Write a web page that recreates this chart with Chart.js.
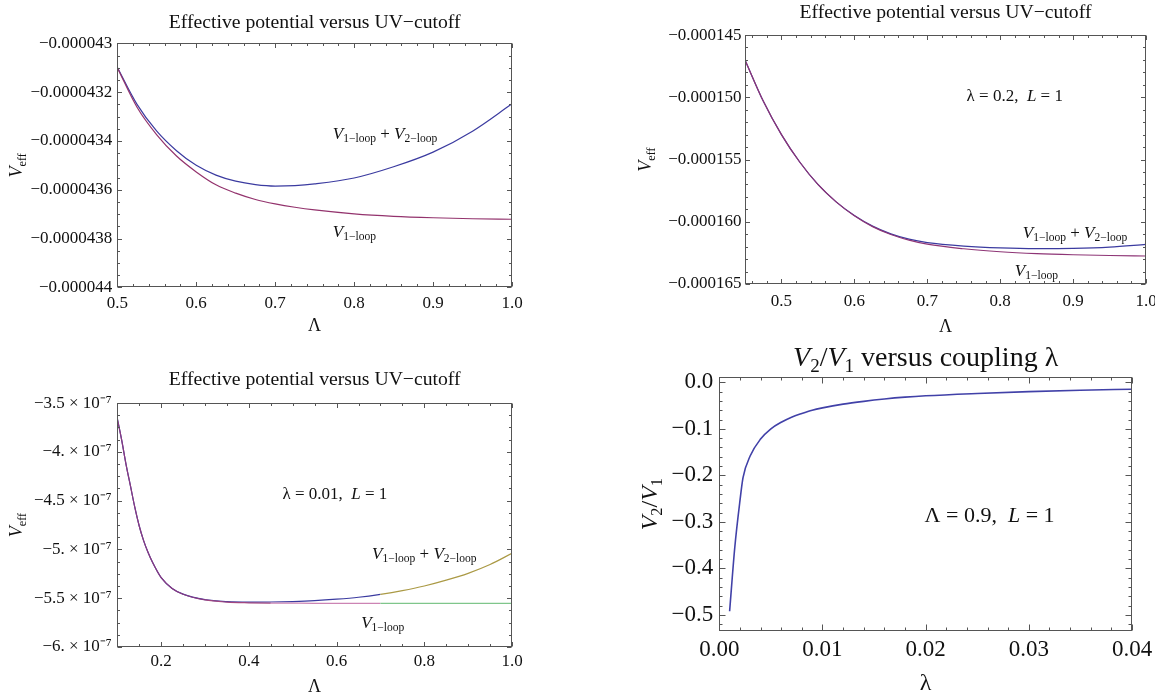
<!DOCTYPE html>
<html>
<head>
<meta charset="utf-8">
<title>Effective potential versus UV-cutoff</title>
<script src="https://cdn.jsdelivr.net/npm/chart.js@4.4.1/dist/chart.umd.min.js"></script>
<style>
  html, body { margin: 0; padding: 0; background: #fff; }
  body { width: 1155px; height: 695px; position: relative; overflow: hidden; }
  canvas { position: absolute; }
</style>
</head>
<body>
<canvas id="tl" width="542" height="340" style="left:0;top:0;width:542px;height:340px"></canvas>
<canvas id="tr" width="596" height="340" style="left:580px;top:0;width:596px;height:340px"></canvas>
<canvas id="bl" width="542" height="355" style="left:0;top:340px;width:542px;height:355px"></canvas>
<canvas id="br" width="582" height="355" style="left:580px;top:340px;width:582px;height:355px"></canvas>
<script>
// ---- data ----
// top left panel
const tlCutoff = [0.5, 0.525, 0.55, 0.575, 0.6, 0.625, 0.65, 0.675, 0.7, 0.725, 0.75, 0.8, 0.85, 0.9, 0.95, 1.0];
const tlOneLoop = [-4.3100e-5, -4.3262e-5, -4.3375e-5, -4.3462e-5, -4.3527e-5, -4.3580e-5, -4.3614e-5, -4.3640e-5,
                   -4.3658e-5, -4.3672e-5, -4.3683e-5, -4.3699e-5, -4.3709e-5, -4.3715e-5, -4.3719e-5, -4.3721e-5];
const tlTwoLoop = [-4.3098e-5, -4.3250e-5, -4.3360e-5, -4.3440e-5, -4.3500e-5, -4.3540e-5, -4.3565e-5, -4.3579e-5,
                   -4.3585e-5, -4.3583e-5, -4.3576e-5, -4.3552e-5, -4.3506e-5, -4.3446e-5, -4.3360e-5, -4.3248e-5];
const tlXTicks = [0.5, 0.6, 0.7, 0.8, 0.9, 1.0];
const tlYTicks = [-0.000044, -0.0000438, -0.0000436, -0.0000434, -0.0000432, -0.000043];

// top right panel (lambda = 0.2, L = 1)
const trCutoff = [0.45, 0.475, 0.5, 0.525, 0.55, 0.575, 0.6, 0.625, 0.65, 0.675, 0.7, 0.75, 0.8, 0.85, 0.9, 0.95, 1.0];
const trOneLoop = [-1.4700e-4, -1.5030e-4, -1.5300e-4, -1.5520e-4, -1.5700e-4, -1.5840e-4, -1.5952e-4, -1.6039e-4,
                   -1.6102e-4, -1.6147e-4, -1.6180e-4, -1.6217e-4, -1.6241e-4, -1.6256e-4, -1.6265e-4, -1.6271e-4, -1.6275e-4];
const trTwoLoop = [-1.4700e-4, -1.5030e-4, -1.5300e-4, -1.5520e-4, -1.5700e-4, -1.5840e-4, -1.5950e-4, -1.6035e-4,
                   -1.6097e-4, -1.6140e-4, -1.6167e-4, -1.6195e-4, -1.6210e-4, -1.6216e-4, -1.6214e-4, -1.6204e-4, -1.6182e-4];
const trXTicks = [0.5, 0.6, 0.7, 0.8, 0.9, 1.0];
const trYTicks = [-0.000165, -0.00016, -0.000155, -0.00015, -0.000145];

// bottom left panel (lambda = 0.01, L = 1)
const blCutoff = [0.1, 0.11, 0.12, 0.13, 0.14, 0.15, 0.16, 0.17, 0.18, 0.2, 0.225, 0.25, 0.3, 0.35, 0.4,
                  0.45, 0.5, 0.55, 0.6, 0.65, 0.7, 0.75, 0.8, 0.85, 0.9, 0.95, 1.0];
const blOneLoop = [-3.66e-7, -3.88e-7, -4.13e-7, -4.35e-7, -4.57e-7, -4.76e-7, -4.91e-7, -5.03e-7, -5.13e-7, -5.29e-7,
                   -5.40e-7, -5.46e-7, -5.518e-7, -5.540e-7, -5.547e-7, -5.550e-7, -5.551e-7, -5.552e-7, -5.552e-7,
                   -5.552e-7, -5.552e-7, -5.552e-7, -5.552e-7, -5.552e-7, -5.552e-7, -5.552e-7, -5.552e-7];
const blTwoLoop = [-3.66e-7, -3.88e-7, -4.13e-7, -4.35e-7, -4.57e-7, -4.76e-7, -4.91e-7, -5.03e-7, -5.13e-7, -5.29e-7,
                   -5.40e-7, -5.458e-7, -5.514e-7, -5.535e-7, -5.540e-7, -5.539e-7, -5.534e-7, -5.525e-7, -5.510e-7,
                   -5.490e-7, -5.460e-7, -5.422e-7, -5.375e-7, -5.315e-7, -5.245e-7, -5.155e-7, -5.040e-7];
const blXTicks = [0.2, 0.4, 0.6, 0.8, 1.0];
const blYTicks = [-6e-7, -5.5e-7, -5e-7, -4.5e-7, -4e-7, -3.5e-7];

// bottom right panel (Lambda = 0.9, L = 1)
const brCoupling = [0.001, 0.0015, 0.002, 0.0023, 0.003, 0.004, 0.005, 0.006, 0.007, 0.008, 0.009, 0.01,
                    0.012, 0.014, 0.016, 0.018, 0.02, 0.025, 0.03, 0.035, 0.04];
const brRatio = [-0.492, -0.355, -0.255, -0.205, -0.158, -0.122, -0.100, -0.086, -0.075, -0.067, -0.060, -0.055,
                 -0.047, -0.041, -0.036, -0.032, -0.029, -0.024, -0.020, -0.017, -0.015];
const brXTicks = [0, 0.01, 0.02, 0.03, 0.04];
const brYTicks = [-0.5, -0.4, -0.3, -0.2, -0.1, 0];

// ---- drawing ----
const SERIF = '"Liberation Serif", "Times New Roman", serif';
Chart.defaults.font.family = SERIF;
Chart.defaults.color = '#111';

const BLUE = '#3b3ba0';
const MAGENTA = '#93336d';
const MINUS = '\u2212';

function points(xs, ys) {
  return xs.map((x, i) => ({x: x, y: ys[i]}));
}

// text with italic and subscript pieces: [text, 'n' | 'i' | 's']
function richText(ctx, parts, x, y, size, align) {
  const font = p => (p[1] === 'i' ? 'italic ' : '') + (p[1] === 's' ? size * 0.68 : size) + 'px ' + SERIF;
  let width = 0;
  parts.forEach(p => { ctx.font = font(p); width += ctx.measureText(p[0]).width; });
  let cx = align === 'center' ? x - width / 2 : x;
  const base = y + size * 0.33;
  ctx.textAlign = 'left';
  ctx.textBaseline = 'alphabetic';
  ctx.fillStyle = '#111';
  parts.forEach(p => {
    ctx.font = font(p);
    ctx.fillText(p[0], cx, p[1] === 's' ? base + size * 0.22 : base);
    cx += ctx.measureText(p[0]).width;
  });
}

function stepValues(min, max, step) {
  const out = [];
  const first = Math.ceil(min / step - 1e-6);
  const last = Math.floor(max / step + 1e-6);
  for (let i = first; i <= last; i++) out.push(i * step);
  return out;
}

// Mathematica style frame with inward ticks, plus text notes
function paper(setup) {
  return {
    id: 'paper',
    afterDraw(chart) {
      const {ctx, chartArea: a, scales} = chart;
      const x = scales.x, y = scales.y;
      ctx.save();
      ctx.strokeStyle = '#555';
      ctx.lineWidth = 1;
      const L = Math.round(a.left) + 0.5, R = Math.round(a.right) - 0.5;
      const T = Math.round(a.top) + 0.5, B = Math.round(a.bottom) - 0.5;
      ctx.strokeRect(L, T, R - L, B - T);
      ctx.beginPath();
      stepValues(x.min, x.max, setup.xMinor).forEach(v => {
        const major = x.ticks.some(t => Math.abs(t.value - v) < setup.xMinor * 1e-3);
        const len = major ? setup.major : setup.minor;
        const px = Math.round(x.getPixelForValue(v)) + 0.5;
        ctx.moveTo(px, B); ctx.lineTo(px, B - len);
        ctx.moveTo(px, T); ctx.lineTo(px, T + len);
      });
      stepValues(y.min, y.max, setup.yMinor).forEach(v => {
        const major = y.ticks.some(t => Math.abs(t.value - v) < setup.yMinor * 1e-3);
        const len = major ? setup.major : setup.minor;
        const py = Math.round(y.getPixelForValue(v)) + 0.5;
        ctx.moveTo(L, py); ctx.lineTo(L + len, py);
        ctx.moveTo(R, py); ctx.lineTo(R - len, py);
      });
      ctx.stroke();

      setup.notes.forEach(n => {
        if (n.axis === 'y') {
          ctx.save();
          ctx.translate(n.px, (a.top + a.bottom) / 2);
          ctx.rotate(-Math.PI / 2);
          richText(ctx, n.parts, 0, 0, n.size, 'center');
          ctx.restore();
        } else if (n.axis === 'title') {
          richText(ctx, n.parts, (a.left + a.right) / 2, n.py, n.size, 'center');
        } else {
          richText(ctx, n.parts, x.getPixelForValue(n.x), y.getPixelForValue(n.y), n.size, n.align);
        }
      });
      ctx.restore();
    }
  };
}

function panel(id, cfg) {
  return new Chart(document.getElementById(id), {
    type: 'scatter',
    data: {datasets: cfg.datasets},
    options: {
      responsive: false,
      animation: false,
      events: [],
      layout: {padding: cfg.padding},
      elements: {point: {radius: 0}, line: {borderWidth: 1.2, cubicInterpolationMode: 'monotone'}},
      plugins: {
        legend: {display: false},
        tooltip: {enabled: false},
        title: cfg.title ? {
          display: true,
          text: cfg.title,
          fullSize: false,
          color: '#111',
          font: {size: 19.7, weight: 'normal'},
          padding: cfg.titlePad
        } : {display: false}
      },
      scales: {
        x: {
          type: 'linear',
          min: cfg.xMin, max: cfg.xMax,
          grid: {display: false, drawTicks: false},
          border: {display: false},
          afterFit: s => { s.height = cfg.xHeight; },
          afterBuildTicks: s => { s.ticks = cfg.xTicks.map(v => ({value: v})); },
          ticks: {autoSkip: false, maxRotation: 0, padding: cfg.xPad, font: {size: cfg.tickSize}, color: '#111',
                  callback: cfg.xFmt},
          title: {display: true, text: cfg.xTitle, color: '#111', font: {size: cfg.xTitleSize, lineHeight: 1},
                  padding: {top: 0, bottom: cfg.xTitlePad}}
        },
        y: {
          type: 'linear',
          min: cfg.yMin, max: cfg.yMax,
          grid: {display: false, drawTicks: false},
          border: {display: false},
          afterFit: s => { s.width = cfg.yWidth; },
          afterBuildTicks: s => { s.ticks = cfg.yTicks.map(v => ({value: v})); },
          ticks: {autoSkip: false, padding: cfg.yPad, font: {size: cfg.tickSize}, color: '#111',
                  callback: cfg.yFmt}
        }
      }
    },
    plugins: [paper(cfg.paper)]
  });
}

const fmt1 = v => v.toFixed(1);
const vEff = [['V', 'i'], ['eff', 's']];
const bothLoops = [['V', 'i'], ['1\u2212loop', 's'], [' + ', 'n'], ['V', 'i'], ['2\u2212loop', 's']];
const oneLoop = [['V', 'i'], ['1\u2212loop', 's']];

panel('tl', {
  datasets: [
    {data: points(tlCutoff, tlOneLoop), borderColor: MAGENTA, showLine: true},
    {data: points(tlCutoff, tlTwoLoop), borderColor: BLUE, showLine: true}
  ],
  padding: {left: 0, top: 0, right: 30, bottom: 0},
  title: 'Effective potential versus UV\u2212cutoff',
  titlePad: {top: 11.5, bottom: 8.2},
  xMin: 0.5, xMax: 1.0, xTicks: tlXTicks, xFmt: fmt1, xHeight: 52.7, xPad: 5.8,
  xTitle: '\u039b', xTitleSize: 18, xTitlePad: 5,
  yMin: -0.000044, yMax: -0.000043, yTicks: tlYTicks, yWidth: 117.3, yPad: 5,
  yFmt: v => MINUS + Math.abs(v).toFixed(7).replace(/0+$/, ''),
  tickSize: 17,
  paper: {xMinor: 0.02, yMinor: 5e-8, major: 4.5, minor: 2.5, notes: [
    {axis: 'y', parts: vEff, px: 16, size: 18},
    {parts: bothLoops, x: 0.773, y: -4.3368e-5, size: 17, align: 'left'},
    {parts: oneLoop, x: 0.773, y: -4.3769e-5, size: 17, align: 'left'}
  ]}
});

panel('tr', {
  datasets: [
    {data: points(trCutoff, trOneLoop), borderColor: '#8e3576', showLine: true},
    {data: points(trCutoff, trTwoLoop), borderColor: BLUE, showLine: true}
  ],
  padding: {left: 0, top: 0, right: 30, bottom: 0},
  title: 'Effective potential versus UV\u2212cutoff',
  titlePad: {top: 1.2, bottom: 10.2},
  xMin: 0.45, xMax: 1.0, xTicks: trXTicks, xFmt: fmt1, xHeight: 56, xPad: 7.6,
  xTitle: '\u039b', xTitleSize: 18, xTitlePad: 3.5,
  yMin: -0.000165, yMax: -0.000145, yTicks: trYTicks, yWidth: 165, yPad: 3.5,
  yFmt: v => MINUS + Math.abs(v).toFixed(6),
  tickSize: 17,
  paper: {xMinor: 0.02, yMinor: 1e-6, major: 4.5, minor: 2.5, notes: [
    {axis: 'y', parts: vEff, px: 65, size: 18},
    {parts: [['\u03bb = 0.2,  ', 'n'], ['L', 'i'], [' = 1', 'n']], x: 0.82, y: -1.4982e-4, size: 17, align: 'center'},
    {parts: bothLoops, x: 0.831, y: -1.6082e-4, size: 17, align: 'left'},
    {parts: oneLoop, x: 0.82, y: -1.6388e-4, size: 17, align: 'left'}
  ]}
});

panel('bl', {
  datasets: [
    {data: points(blCutoff, blOneLoop), borderColor: MAGENTA, showLine: true,
     segment: {borderColor: c => c.p0.parsed.x >= 0.7 ? '#7fc68b' : c.p0.parsed.x >= 0.45 ? '#cc84b4' : c.p0.parsed.x >= 0.3 ? '#a2467f' : '#8a3a80'}},
    {data: points(blCutoff, blTwoLoop), borderColor: BLUE, showLine: true,
     segment: {borderColor: c => c.p0.parsed.x >= 0.7 ? '#ab9a45' : BLUE}}
  ],
  padding: {left: 0, top: 0, right: 30, bottom: 0},
  title: 'Effective potential versus UV\u2212cutoff',
  titlePad: {top: 28.2, bottom: 11.2},
  xMin: 0.1, xMax: 1.0, xTicks: blXTicks, xFmt: fmt1, xHeight: 48, xPad: 4.6,
  xTitle: '\u039b', xTitleSize: 18, xTitlePad: -1.5,
  yMin: -6e-7, yMax: -3.5e-7, yTicks: blYTicks, yWidth: 117.3, yPad: 5.5,
  yFmt: v => {
    const m = Math.round(Math.abs(v) * 1e8) / 10;
    return MINUS + (Number.isInteger(m) ? m + '.' : m.toFixed(1)) + ' \u00d7 10\u207b\u2077';
  },
  tickSize: 17,
  paper: {xMinor: 0.05, yMinor: 1.25e-8, major: 4.5, minor: 2.5, notes: [
    {axis: 'y', parts: vEff, px: 16, size: 18},
    {parts: [['\u03bb = 0.01,  ', 'n'], ['L', 'i'], [' = 1', 'n']], x: 0.596, y: -4.422e-7, size: 17, align: 'center'},
    {parts: bothLoops, x: 0.681, y: -5.037e-7, size: 17, align: 'left'},
    {parts: oneLoop, x: 0.656, y: -5.744e-7, size: 17, align: 'left'}
  ]}
});

panel('br', {
  datasets: [
    {data: points(brCoupling, brRatio), borderColor: '#4141a8', borderWidth: 1.6, showLine: true}
  ],
  padding: {left: 0, top: 37.3, right: 30, bottom: 0},
  title: null,
  xMin: 0, xMax: 0.04, xTicks: brXTicks, xFmt: v => v.toFixed(2), xHeight: 64, xPad: 5.3,
  xTitle: '\u03bb', xTitleSize: 24, xTitlePad: -1,
  yMin: -0.5345, yMax: 0.0107, yTicks: brYTicks, yWidth: 139.3, yPad: 6,
  yFmt: v => (v < 0 ? MINUS : '') + Math.abs(v).toFixed(1),
  tickSize: 23,
  paper: {xMinor: 0.002, yMinor: 0.02, major: 6, minor: 3, notes: [
    {axis: 'title', parts: [['V', 'i'], ['2', 's'], ['/', 'n'], ['V', 'i'], ['1', 's'], [' versus coupling \u03bb', 'n']], py: 16.5, size: 28},
    {axis: 'y', parts: [['V', 'i'], ['2', 's'], ['/', 'n'], ['V', 'i'], ['1', 's']], px: 69, size: 24},
    {parts: [['\u039b = 0.9,  ', 'n'], ['L', 'i'], [' = 1', 'n']], x: 0.0262, y: -0.285, size: 22, align: 'center'}
  ]}
});
</script>
</body>
</html>
